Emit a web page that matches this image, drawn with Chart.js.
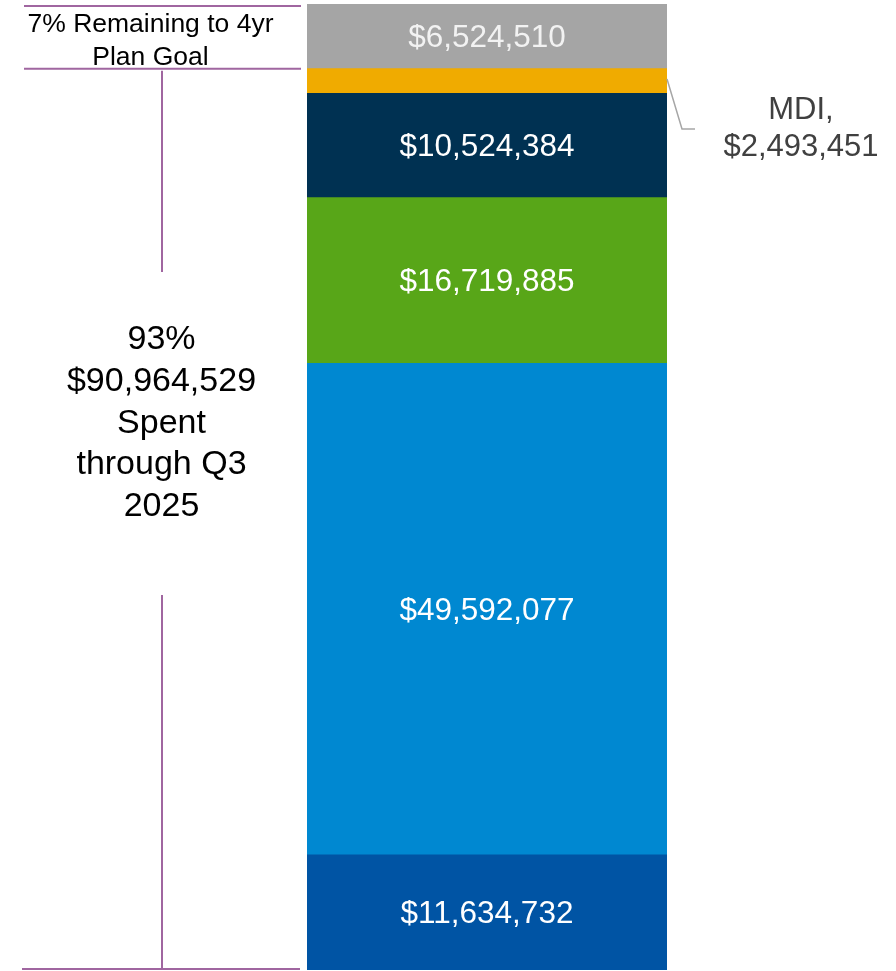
<!DOCTYPE html>
<html>
<head>
<meta charset="utf-8">
<script src="https://cdn.jsdelivr.net/npm/chart.js@4/dist/chart.umd.min.js"></script>
<style>
  html, body { margin: 0; padding: 0; background: #fff; }
  #wrap { width: 896px; height: 971px; position: relative; }
</style>
</head>
<body>
<div id="wrap"><canvas id="chart"></canvas></div>
<script>
// segments, bottom to top
const categories = ['Spending'];
const segmentNames = ['Segment 1', 'Segment 2', 'Segment 3', 'Segment 4', 'MDI', 'Remaining'];
const segmentValues = [11634732, 49592077, 16719885, 10524384, 2493451, 6524510];
const segmentColors = ['#0054A4', '#0088D1', '#58A618', '#003152', '#F0AB00', '#A5A5A5'];

const spentLines = ['93%', '$90,964,529', 'Spent', 'through Q3', '2025'];
const remainingLines = ['7% Remaining to 4yr', 'Plan Goal'];
const mdiLines = ['MDI,', '$2,493,451'];

const spentTotal = segmentValues.slice(0, 5).reduce((a, b) => a + b, 0);
const grandTotal = segmentValues.reduce((a, b) => a + b, 0);

const fmt = v => '$' + v.toLocaleString('en-US');
const FONT = '"Liberation Sans", Arial, sans-serif';
const BRACKET = '#A066A0';

const labelPlugin = {
    id: 'segLabels',
    afterDatasetsDraw(chart) {
        const ctx = chart.ctx;
        ctx.save();
        ctx.font = '31.5px ' + FONT;
        ctx.textAlign = 'center';
        ctx.textBaseline = 'middle';
        chart.data.datasets.forEach((ds, i) => {
            if (segmentNames[i] === 'MDI') return;
            const bar = chart.getDatasetMeta(i).data[0];
            const mid = (bar.y + bar.base) / 2;
            ctx.fillStyle = i === 5 ? '#F2F2F2' : '#FFFFFF';
            ctx.fillText(fmt(ds.data[0]), bar.x, mid + 2);
        });
        ctx.restore();
    }
};

const annotationPlugin = {
    id: 'annotations',
    afterDraw(chart) {
        const ctx = chart.ctx;
        const y = chart.scales.y;
        const yTop = y.getPixelForValue(grandTotal) + 2;
        const ySpent = y.getPixelForValue(spentTotal);
        const yZero = y.getPixelForValue(0) - 1;
        const left = 22, right = 301, midX = 162;

        ctx.save();
        ctx.strokeStyle = BRACKET;
        ctx.lineWidth = 2;
        ctx.beginPath();
        ctx.moveTo(left + 2, yTop); ctx.lineTo(right, yTop);
        ctx.moveTo(left + 2, ySpent); ctx.lineTo(right, ySpent);
        ctx.moveTo(left, yZero); ctx.lineTo(right - 1, yZero);
        ctx.moveTo(midX, ySpent + 2); ctx.lineTo(midX, 272);
        ctx.moveTo(midX, 595); ctx.lineTo(midX, yZero);
        ctx.stroke();

        // left texts
        ctx.fillStyle = '#000000';
        ctx.textAlign = 'center';
        ctx.textBaseline = 'middle';
        ctx.font = '26.5px ' + FONT;
        remainingLines.forEach((t, i) => ctx.fillText(t, 150.5, 25 + i * 32.5));
        ctx.font = '34px ' + FONT;
        spentLines.forEach((t, i) => ctx.fillText(t, 161.5, 340 + i * 41.6));

        // MDI leader line + label
        const mdi = chart.getDatasetMeta(4).data[0];
        const mdiMid = (mdi.y + mdi.base) / 2;
        const barRight = mdi.x + mdi.width / 2;
        ctx.strokeStyle = '#A6A6A6';
        ctx.lineWidth = 1.5;
        ctx.beginPath();
        ctx.moveTo(barRight, mdiMid - 2);
        ctx.lineTo(barRight + 15, 129);
        ctx.lineTo(barRight + 28, 129);
        ctx.stroke();
        ctx.fillStyle = '#404040';
        ctx.font = '31px ' + FONT;
        mdiLines.forEach((t, i) => ctx.fillText(t, 801, 110 + i * 37));
        ctx.restore();
    }
};

new Chart(document.getElementById('chart'), {
    type: 'bar',
    data: {
        labels: categories,
        datasets: segmentValues.map((v, i) => ({
            label: segmentNames[i],
            data: [v],
            backgroundColor: segmentColors[i],
            borderWidth: 0,
            barPercentage: 1,
            categoryPercentage: 1
        }))
    },
    options: {
        responsive: true,
        maintainAspectRatio: false,
        animation: false,
        layout: { padding: { left: 307, right: 229, top: 4, bottom: 1 } },
        scales: {
            x: { stacked: true, display: false },
            y: { stacked: true, display: false, min: 0, max: grandTotal }
        },
        plugins: {
            legend: { display: false },
            tooltip: { enabled: false }
        }
    },
    plugins: [labelPlugin, annotationPlugin]
});
</script>
</body>
</html>
